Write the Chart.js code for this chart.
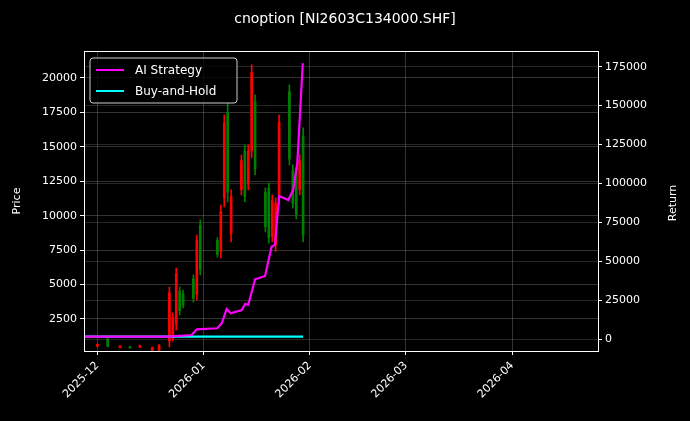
<!DOCTYPE html>
<html><head><meta charset="utf-8">
<script src="https://cdn.jsdelivr.net/npm/chart.js@4"></script>
<style>html,body{margin:0;background:#000}#c{display:block}</style>
</head><body>
<div style="width:690px;height:421px"><canvas id="c"></canvas></div>
<script>
const title = 'cnoption [NI2603C134000.SHF]';
// x values: days since 2025-12-01
const candleDays  = [0,3,6.6,9.5,12.4,16,18,21,22,23,24,25,28,29,30,35,36,37,38,39,42,43,44,45,46,49,50,51,52,53,56,57,58,59,60];
const candleLow   = [480,465,400,380,420,175,175,465,900,1700,2790,3300,3735,3880,5700,7000,6930,10640,11000,8100,11510,11000,11870,14200,12960,8820,8020,8100,7400,10780,13690,10560,9760,11510,8100];
const candleHigh  = [700,1120,560,520,600,465,640,4825,2940,6200,4825,4600,5700,8600,9700,8390,10780,17320,18200,11870,14420,15140,15140,20960,18780,12020,12380,11500,11300,17320,19500,13690,13470,14420,16380];
const candleOpen  = [520,1050,430,400,450,200,220,900,1200,2200,4500,4300,5400,4300,9300,8200,7400,11300,17500,8700,11900,14700,12300,14700,18300,11700,12000,8500,7900,11300,19000,13300,13100,11900,15800];
const candleClose = [660,520,530,480,560,430,600,4400,2600,5800,3100,3500,4000,8200,6100,7200,10300,16700,11700,11400,14000,11400,14700,20400,13400,9200,8400,11100,10900,16800,14100,10900,10100,14000,8600];
const candleUp    = [1,0,1,0,1,1,1,1,1,1,0,0,0,1,0,0,1,1,0,1,1,0,1,1,0,0,0,1,1,1,0,0,0,1,0];
const stratDays   = [-3.9,21,27.5,29,35,36.3,37.7,38.9,42.1,43.1,44,46,48.9,50.8,51.8,53,55.7,57.1,58.3,59.9];
const stratValues = [1500,1600,2600,6200,6900,10300,19300,16500,18600,22500,22000,38400,40500,59300,60500,91900,89300,95800,112900,177200];
const holdDays    = [-3.9,20,40,60];
const holdValues  = [1500,1500,1500,1500];
const xTickDays   = [0,31,62,90,121];
const xTickLabels = ['2025-12','2026-01','2026-02','2026-03','2026-04'];
const priceTicks  = [2500,5000,7500,10000,12500,15000,17500,20000];
const returnTicks = [0,25000,50000,75000,100000,125000,150000,175000];

const RED='#ff0000', GREEN='#008000';
const cols = candleUp.map(u=>u?RED:GREEN);
const gridC = 'rgba(128,128,128,0.4)';

const extras = {
  id:'extras',
  afterDraw(ch){
    const c=ch.ctx, a=ch.chartArea;
    c.save();
    c.strokeStyle='#fff'; c.lineWidth=1;
    c.strokeRect(a.left+0.5,a.top+0.5,a.right-a.left,a.bottom-a.top);
    c.fillStyle='#fff'; c.font='14px DejaVu Sans'; c.textAlign='center'; c.textBaseline='middle';
    c.fillText(title,345,19);
    c.save(); c.font='11px DejaVu Sans'; c.translate(673,(a.top+a.bottom)/2+2); c.rotate(-Math.PI/2);
    c.fillText('Return',0,0); c.restore();
    const lx=a.left+6, ly=a.top+7;
    c.fillStyle='rgba(0,0,0,0.8)';
    c.strokeStyle='#ccc';
    c.beginPath(); c.roundRect(lx,ly,147,45,3); c.fill(); c.stroke();
    c.font='12px DejaVu Sans'; c.textAlign='left';
    [['AI Strategy','#ff00ff'],['Buy-and-Hold','#00ffff']].forEach((it,i)=>{
      const y=ly+12+i*21;
      c.strokeStyle=it[1]; c.lineWidth=2;
      c.beginPath(); c.moveTo(lx+6,y); c.lineTo(lx+34,y); c.stroke();
      c.fillStyle='#fff'; c.fillText(it[0],lx+45,y+1);
    });
    c.restore();
  }
};

new Chart(document.getElementById('c'),{
  data:{datasets:[
    {type:'bar',data:candleDays.map((d,i)=>({x:d,y:[candleLow[i],candleHigh[i]]})),backgroundColor:cols,barThickness:1,grouped:false,yAxisID:'y',order:3},
    {type:'bar',data:candleDays.map((d,i)=>({x:d,y:[candleOpen[i],candleClose[i]]})),backgroundColor:cols,barThickness:2,grouped:false,yAxisID:'y',order:3},
    {type:'line',data:holdDays.map((d,i)=>({x:d,y:holdValues[i]})),borderColor:'#00ffff',borderWidth:2.2,pointRadius:0,yAxisID:'y2',order:2},
    {type:'line',data:stratDays.map((d,i)=>({x:d,y:stratValues[i]})),borderColor:'#ff00ff',borderWidth:2.2,pointRadius:0,yAxisID:'y2',order:1}
  ]},
  options:{
    responsive:true,maintainAspectRatio:false,animation:false,
    layout:{padding:{top:51,left:0,right:0,bottom:0}},
    plugins:{legend:{display:false},tooltip:{enabled:false}},
    scales:{
      x:{type:'linear',min:-3.9,max:146,offset:false,
        afterBuildTicks(s){s.ticks=xTickDays.map(v=>({value:v}));},
        afterFit(s){s.height=70;},
        ticks:{color:'#fff',font:{family:'DejaVu Sans',size:11},maxRotation:45,minRotation:45,autoSkip:false,padding:4,
          callback:(v)=>xTickLabels[xTickDays.indexOf(v)]},
        grid:{offset:false,color:gridC,borderDash:[3,3],tickColor:'#fff',tickLength:4},border:{display:false}},
      y:{position:'left',min:175,max:21960,
        afterBuildTicks(s){s.ticks=priceTicks.map(v=>({value:v}));},
        afterFit(s){s.width=84;},
        ticks:{color:'#fff',font:{family:'DejaVu Sans',size:11},callback:v=>String(v)},
        title:{display:true,text:'Price',color:'#fff',font:{family:'DejaVu Sans',size:11},padding:{top:11,bottom:0}},
        grid:{color:gridC,borderDash:[3,3],tickColor:'#fff',tickLength:4},border:{display:false}},
      y2:{position:'right',min:-7700,max:185100,
        afterBuildTicks(s){s.ticks=returnTicks.map(v=>({value:v}));},
        afterFit(s){s.width=92;},
        ticks:{color:'#fff',font:{family:'DejaVu Sans',size:11},callback:v=>String(v)},
        title:{display:false},
        grid:{color:'rgba(128,128,128,0.3)',borderDash:[2,3],tickColor:'#fff',tickLength:4},border:{display:false}}
    }
  },
  plugins:[extras]
});
</script>
</body></html>
